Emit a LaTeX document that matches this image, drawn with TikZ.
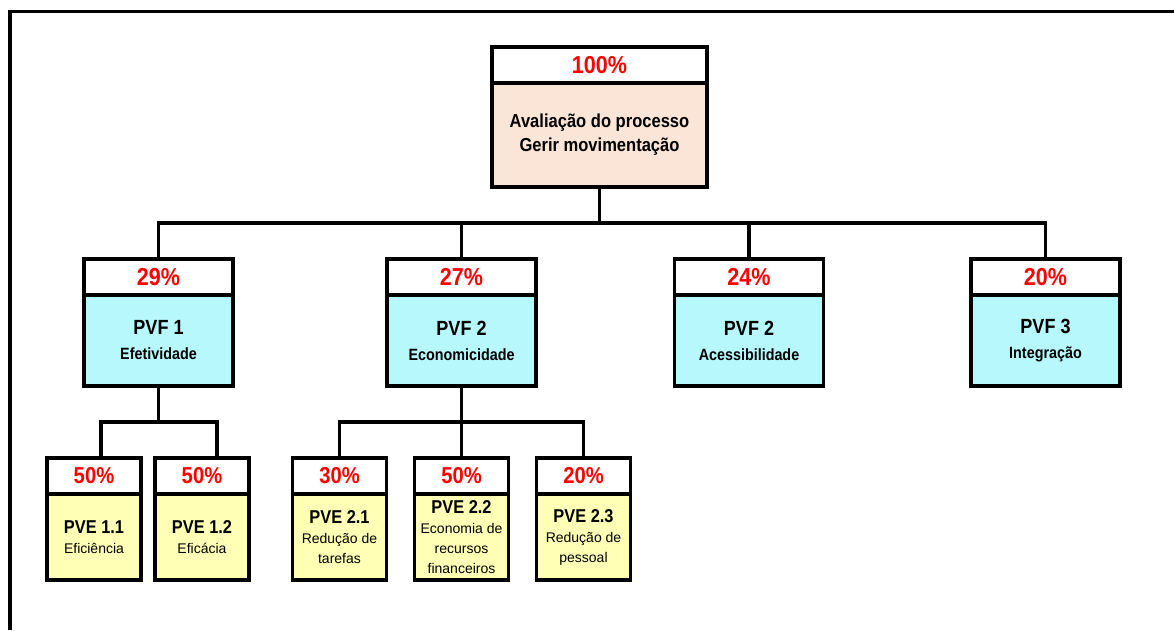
\documentclass[tikz,border=0pt]{standalone}
\usepackage{fontspec}
\setmainfont[BoldFeatures={FakeStretch=0.88}]{Liberation Sans}
\usepackage{xcolor}
\usepackage{tikz}
\usetikzlibrary{positioning,calc}
\definecolor{pctred}{RGB}{255,0,0}
\definecolor{peach}{RGB}{251,229,214}
\definecolor{pvfcyan}{RGB}{183,248,252}
\definecolor{pveyellow}{RGB}{255,255,181}
\tikzset{
    cell/.style={draw,line width=3.2pt,outer sep=0pt,inner sep=0pt,align=center},
    tophead/.style={cell,fill=white,minimum width=215pt,minimum height=36pt,text=pctred,font=\fontsize{24.5}{28}\selectfont\bfseries},
    pvfhead/.style={tophead,minimum width=149pt},
    pvehead/.style={tophead,minimum width=94pt,font=\fontsize{23}{26}\selectfont\bfseries},
    topbody/.style={cell,fill=peach,minimum width=215pt,minimum height=104pt,font=\fontsize{18.8}{24}\selectfont\bfseries},
    pvfbody/.style={cell,fill=pvfcyan,minimum width=149pt,minimum height=91pt,font=\fontsize{16.3}{25}\selectfont\bfseries},
    pvebody/.style={cell,fill=pveyellow,minimum width=94pt,minimum height=86pt,font=\fontsize{14}{20}\selectfont},
    link/.style={line width=3.2pt},
    frameline/.style={line width=3.6pt}
}

\begin{document}
\begin{tikzpicture}[x=1pt,y=-1pt]
    \useasboundingbox (0,0) rectangle (1174,630);
    \draw[frameline] (1174,11.5) -| (10,630);

    % raiz
    \node[tophead] (h0) at (599.5,65) {100\%};
    \node[topbody,below=0pt of h0] (b0) {Avaliação do processo\\Gerir movimentação};

    % PVF
    \node[pvfhead] (h1) at (158.5,277) {29\%};
    \node[pvfbody,below=0pt of h1] (b1) {{\fontsize{20.5}{23}\selectfont PVF 1}\\Efetividade};
    \node[pvfhead] (h2) at (461.5,277) {27\%};
    \node[pvfbody,below=0pt of h2] (b2) {{\fontsize{20.5}{23}\selectfont PVF 2}\\Economicidade};
    \node[pvfhead] (h3) at (749,277) {24\%};
    \node[pvfbody,below=0pt of h3] (b3) {{\fontsize{20.5}{23}\selectfont PVF 2}\\Acessibilidade};
    \node[pvfhead] (h4) at (1045.5,277) {20\%};
    \node[pvfbody,below=0pt of h4] (b4) {{\fontsize{20.5}{23}\selectfont PVF 3}\\Integração};

    % PVE
    \node[pvehead] (h11) at (94,476) {50\%};
    \node[pvebody,below=0pt of h11] (b11) {{\fontsize{18.6}{19}\selectfont\bfseries PVE 1.1}\\Eficiência};
    \node[pvehead] (h12) at (202,476) {50\%};
    \node[pvebody,below=0pt of h12] (b12) {{\fontsize{18.6}{19}\selectfont\bfseries PVE 1.2}\\Eficácia};
    \node[pvehead] (h21) at (339.5,476) {30\%};
    \node[pvebody,below=0pt of h21] (b21) {{\fontsize{18.6}{19}\selectfont\bfseries PVE 2.1}\\Redução de\\tarefas};
    \node[pvehead] (h22) at (461.5,476) {50\%};
    \node[pvebody,below=0pt of h22] (b22) {{\fontsize{18.6}{19}\selectfont\bfseries PVE 2.2}\\Economia de\\recursos\\financeiros};
    \node[pvehead] (h23) at (583.5,476) {20\%};
    \node[pvebody,below=0pt of h23] (b23) {{\fontsize{18.6}{19}\selectfont\bfseries PVE 2.3}\\Redução de\\pessoal};

    % ligações
    \coordinate[below=36pt of b0] (j0);
    \foreach \n in {h1,h2,h3,h4}
        \draw[link] (b0.south) -- (j0) -| (\n.north);
    \coordinate[below=36pt of b1] (j1);
    \draw[link] (b1.south) -- (j1) -| ($(h11.north)+(7,0)$);
    \draw[link] (j1) -| ($(h12.north)+(15,0)$);
    \coordinate[below=36pt of b2] (j2);
    \foreach \n in {h21,h22,h23}
        \draw[link] (b2.south) -- (j2) -| (\n.north);
\end{tikzpicture}
\end{document}
